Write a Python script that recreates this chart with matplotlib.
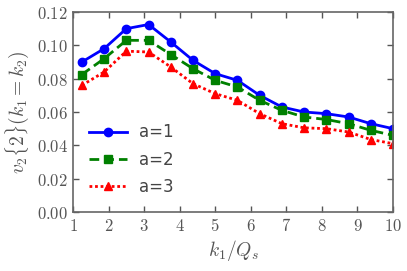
import matplotlib
matplotlib.use("Agg")
import matplotlib.pyplot as plt
from matplotlib.ticker import FuncFormatter

x = [1.25, 1.875, 2.5, 3.125, 3.75, 4.375, 5.0, 5.625, 6.25, 6.875, 7.5, 8.125, 8.75, 9.375, 10.0]
a1 = [0.090, 0.098, 0.110, 0.1125, 0.102, 0.091, 0.083, 0.079, 0.070, 0.063, 0.060, 0.059, 0.057, 0.053, 0.050]
a2 = [0.0825, 0.092, 0.103, 0.103, 0.0945, 0.086, 0.079, 0.075, 0.067, 0.061, 0.057, 0.0555, 0.053, 0.049, 0.046]
a3 = [0.076, 0.084, 0.0965, 0.096, 0.087, 0.077, 0.071, 0.067, 0.059, 0.053, 0.0505, 0.050, 0.048, 0.0435, 0.041]

plt.rcParams["mathtext.fontset"] = "cm"
plt.rcParams["font.family"] = "DejaVu Sans"

fig = plt.figure(figsize=(4.07, 2.71), dpi=100)
ax = fig.add_axes([73 / 407, 1 - 212 / 271, 320 / 407, 200 / 271])

ax.plot(x, a1, "-o", color="blue", lw=2, ms=6, label="a=1")
ax.plot(x, a2, marker="s", ls=(0, (3.5, 1.8)), color="green", lw=2, ms=6, label="a=2")
ax.plot(x, a3, marker="^", ls=(0, (1, 1)), color="red", lw=2, ms=6, label="a=3")

ax.set_xlim(1, 10)
ax.set_ylim(0, 0.12)
ax.set_xticks(range(1, 11))
ax.set_yticks([0.0, 0.02, 0.04, 0.06, 0.08, 0.10, 0.12])
ax.xaxis.set_major_formatter(FuncFormatter(lambda v, p: r"$%d$" % v))
ax.yaxis.set_major_formatter(FuncFormatter(lambda v, p: r"$%.2f$" % v))
ax.tick_params(direction="in", top=True, right=True, length=4, width=1,
               colors="#555555", labelsize=12, labelcolor="#555555")
for s in ax.spines.values():
    s.set_color("#666666")
    s.set_linewidth(1.2)

ax.set_xlabel(r"$k_1/Q_s$", fontsize=14, color="#555555", labelpad=2)
ax.set_ylabel(r"$v_2\{2\}(k_1=k_2)$", fontsize=14, color="#555555", labelpad=4)

leg = ax.legend(loc="center left", bbox_to_anchor=(0.003, 0.262), frameon=False,
                fontsize=12, handlelength=2.3, labelspacing=0.55, handletextpad=0.7)
for t in leg.get_texts():
    t.set_color("#444444")

fig.savefig("out.png", dpi=100)
